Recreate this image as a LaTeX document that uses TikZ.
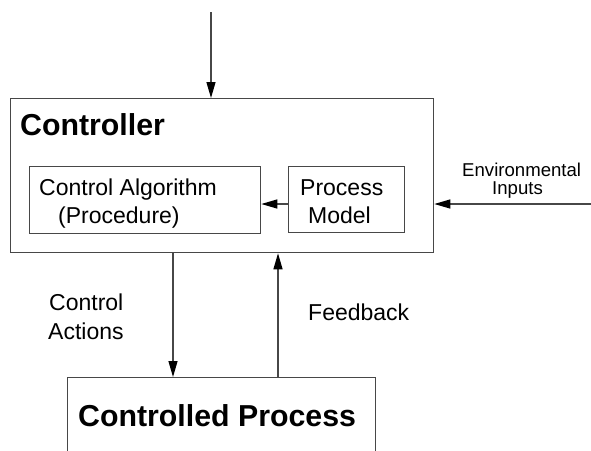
\documentclass[tikz,border=0pt]{standalone}
\usepackage{fontspec}
\setmainfont{Liberation Sans}
\usetikzlibrary{arrows.meta}

\tikzset{
  ln/.style={draw=black!72, line width=1.3pt},
  arr/.style={ln, -{Triangle[length=16pt,width=9pt,color=black]}},
  boxnode/.style={ln, rectangle, inner sep=0pt, anchor=north west},
  lbl/.style={inner sep=0pt, anchor=base west, font=\fontsize{23}{28}\selectfont},
  small/.style={inner sep=0pt, anchor=base west, font=\fontsize{18.6}{22}\selectfont},
  title/.style={inner sep=0pt, anchor=base west, font=\fontsize{30.3}{36}\selectfont\bfseries},
}

\begin{document}
\begin{tikzpicture}[x=1pt, y=-1pt]
  \useasboundingbox (0,0) rectangle (591,450);
  \clip (0,0) rectangle (591,450);

  % Controller with its two inner blocks
  \node[boxnode, minimum width=423pt, minimum height=154pt] (ctrl) at (10,98) {};
  \node[title] (ctrltxt) at (20,135) {Controller};

  \node[boxnode, minimum width=231pt, minimum height=67pt] (ca) at (29,166) {};
  \node[lbl] (ca1) at (39,195) {Control Algorithm};
  \node[lbl] (ca2) at (58,223) {(Procedure)};

  \node[boxnode, minimum width=116pt, minimum height=66pt] (pm) at (288,166) {};
  \node[lbl] (pm1) at (300,195) {Process};
  \node[lbl] (pm2) at (308,223) {Model};

  % Controlled process (runs off the lower edge)
  \node[boxnode, minimum width=308pt, minimum height=120pt] (cp) at (67,377) {};
  \node[title] (cptxt) at (78,426) {Controlled Process};

  % Connectors
  \coordinate (topsrc) at (211,12);
  \draw[arr] (topsrc) -- (topsrc |- ctrl.north);

  \coordinate (envsrc) at (591,204);
  \draw[arr] (envsrc) -- (envsrc -| ctrl.east);
  \node[small] (env1) at (462,176) {Environmental};
  \node[small] (env2) at (492,194.5) {Inputs};

  \coordinate (pmlink) at (288,204);
  \draw[arr] (pmlink) -- (pmlink -| ca.east);

  \coordinate (actx) at (173,0);
  \draw[arr] (actx |- ctrl.south) -- (actx |- cp.north);
  \node[lbl] (act1) at (49,310) {Control};
  \node[lbl] (act2) at (48,339) {Actions};

  \coordinate (fbx) at (278,0);
  \draw[arr] (fbx |- cp.north) -- (fbx |- ctrl.south);
  \node[lbl] (fb) at (308,320) {Feedback};
\end{tikzpicture}
\end{document}
